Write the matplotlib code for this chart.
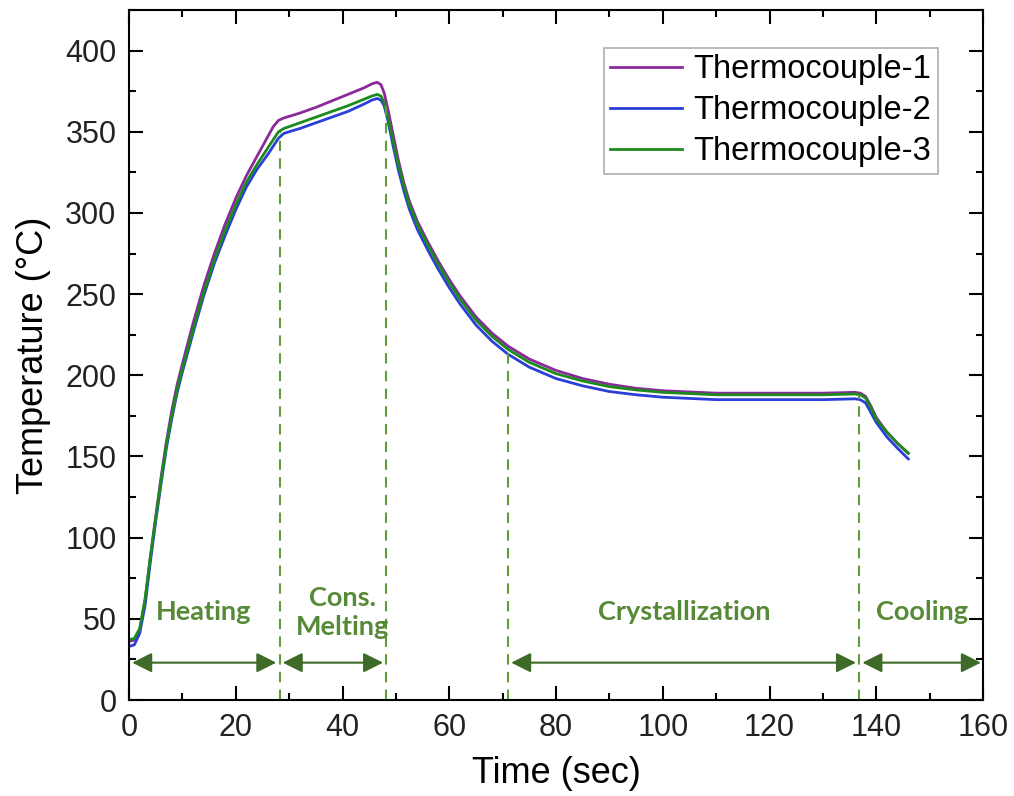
import matplotlib
matplotlib.use('Agg')
import matplotlib.pyplot as plt
from matplotlib.ticker import MultipleLocator

plt.rcParams['font.family'] = ['Liberation Sans', 'DejaVu Sans']

# time (sec)
time = [0, 1, 2, 3, 4, 5, 6, 7, 8, 9, 10, 12, 14, 16, 18, 20, 22, 24, 26, 27,
        28, 29, 32, 35, 38, 41, 44, 45.5, 46.5, 47.2, 47.8, 48.5, 49.5, 50.5,
        51.5, 52.5, 54, 56, 58, 60, 62, 65, 68, 71, 75, 80, 85, 90, 95, 100,
        110, 120, 130, 136, 137, 138, 139, 140, 142, 144, 146]

tc1 = [36, 37, 43, 61, 88, 113, 137, 159, 178, 194, 207, 232, 255, 275, 293,
       309, 323, 335, 347, 353, 357, 358.5, 361.5, 365, 369, 373, 377, 379.5,
       380.5, 379, 374, 364, 348, 332, 318.5, 307.5, 295, 282, 270, 259, 249,
       236, 226, 218, 210, 203, 198, 194.5, 192, 190.5, 189, 189, 189, 189.5,
       189, 187, 181, 174, 165, 158, 152]

tc2 = [33, 34, 41, 58, 85, 110, 133, 155, 173, 189, 202, 226, 249, 269, 286,
       302, 316, 327, 336, 341, 346, 349, 352, 355.5, 359, 362.5, 367, 369.5,
       370.5, 369.5, 366, 357, 341, 326, 313.5, 302.5, 290, 277, 265, 254, 244,
       231, 221, 213, 205, 198, 193.5, 190, 188, 186.5, 185, 185, 185, 185.5,
       185, 183, 177, 171, 162, 155, 148.5]

tc3 = [37, 38, 44, 62, 88, 112, 135, 157, 175, 191, 204, 228, 251, 271, 289,
       305, 319, 330, 340, 345, 350, 352, 355.5, 359, 362.5, 366, 370, 372,
       373, 372, 368, 359, 344, 329, 316.5, 305.5, 293, 280, 268, 257, 247,
       234, 224, 216, 208, 201, 196.5, 193, 191, 189.5, 188, 188, 188, 188.5,
       188, 186, 180, 173, 165, 158, 152]

# phase boundaries (sec) and the temperature where each dashed line stops
boundaries = [28.2, 48.2, 71.0, 136.8]
boundary_tops = [350, 366, 214, 188]

# phase labels: (text, x, y) and arrows: (start, end)
phase_labels = [('Heating', 14, 54), ('Cons.\nMelting', 40, 54),
                ('Crystallization', 104, 54), ('Cooling', 148.5, 54)]
phase_arrows = [(0.6, 27.6), (28.8, 47.6), (71.6, 136.2), (137.4, 159.6)]
arrow_y = 23

fig, ax = plt.subplots(figsize=(10.14, 7.96), dpi=100)
fig.subplots_adjust(left=129/1014, right=983/1014, bottom=96/796, top=786/796)

ax.plot(time, tc1, color='#8b2a9c', lw=2, label='Thermocouple-1')
ax.plot(time, tc2, color='#2b3fd8', lw=2, label='Thermocouple-2')
ax.plot(time, tc3, color='#1c8a1c', lw=2, label='Thermocouple-3')

for xb, top in zip(boundaries, boundary_tops):
    ax.plot([xb, xb], [0, top], color='#5f9e3a', lw=1.5, ls=(0, (5, 3.5)))

for x0, x1 in phase_arrows:
    ax.annotate('', xy=(x1, arrow_y), xytext=(x0, arrow_y),
                arrowprops=dict(arrowstyle='<|-|>', color='#3e6b28', lw=1.5,
                                mutation_scale=30, shrinkA=0, shrinkB=0))

for txt, x, y in phase_labels:
    ax.text(x, y, txt, color='#578a37', fontsize=19.5, fontweight='bold',
            family=['Lato', 'DejaVu Sans'], ha='center', va='center',
            linespacing=1.25)

ax.set_xlim(0, 160)
ax.set_ylim(0, 425)
ax.xaxis.set_major_locator(MultipleLocator(20))
ax.xaxis.set_minor_locator(MultipleLocator(10))
ax.yaxis.set_major_locator(MultipleLocator(50))
ax.yaxis.set_minor_locator(MultipleLocator(25))
ax.tick_params(which='both', direction='in', top=True, right=True,
               width=1.5, labelsize=22, pad=9, labelcolor='#222222')
ax.tick_params(which='major', length=10)
ax.tick_params(which='minor', length=5)
for sp in ax.spines.values():
    sp.set_linewidth(1.5)

ax.set_xlabel('Time (sec)', fontsize=26, labelpad=10)
ax.set_ylabel('Temperature (°C)', fontsize=26, labelpad=10)

leg = ax.legend(loc='upper right', fontsize=23.5, frameon=True, fancybox=False,
                edgecolor='#999999', handlelength=2.2, borderpad=0.2,
                labelspacing=0.3, handletextpad=0.35, borderaxespad=0,
                bbox_to_anchor=(0.947, 0.945))
leg.get_frame().set_linewidth(1.2)

fig.savefig('out.png', dpi=100)
